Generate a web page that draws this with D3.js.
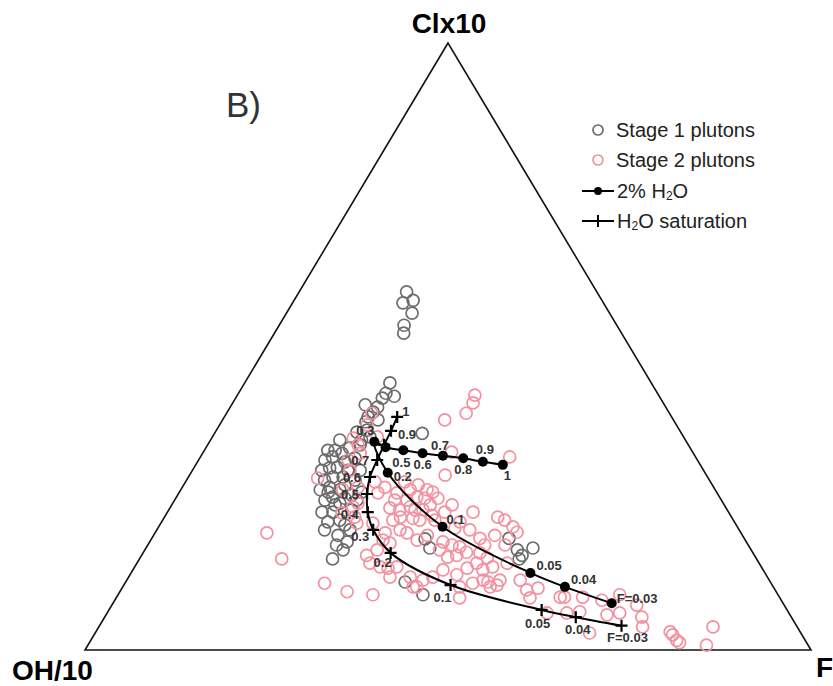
<!DOCTYPE html>
<html>
<head>
<meta charset="utf-8">
<script src="https://cdn.jsdelivr.net/npm/d3@7"></script>
<style>
  body { margin: 0; background: #fff; }
  svg { display: block; font-family: "Liberation Sans", Arial, sans-serif; }
</style>
</head>
<body>
<div id="chart"></div>
<script>
// ternary compositions in percent: [Cl, F]  (OH = 100 - Cl - F)
const stage1 = [
  [59.0, 14.8], [57.2, 15.2], [57.6, 16.4], [55.5, 17.3], [53.5, 17.2], [52.2, 17.8],
  [44.0, 20.0], [42.3, 20.3], [41.8, 21.7], [40.0, 20.3], [39.2, 20.1], [38.4, 19.8],
  [37.6, 19.9], [36.2, 20.7], [35.1, 21.7], [35.7, 28.6], [33.8, 21.0], [33.3, 19.8],
  [32.4, 19.2], [31.8, 18.2], [30.1, 19.7], [28.5, 19.9], [28.5, 21.3], [31.0, 20.3],
  [31.6, 21.4], [26.8, 20.3], [26.4, 21.9], [25.2, 21.5], [25.0, 23.3], [24.2, 23.0],
  [22.7, 22.8], [21.1, 22.9], [21.4, 24.4], [18.9, 25.4], [17.8, 27.2], [15.0, 26.6],
  [19.8, 26.6], [23.1, 25.2], [28.0, 23.2], [30.0, 18.7], [28.0, 19.0], [24.7, 20.7],
  [17.3, 26.0], [11.2, 38.5], [9.1, 42.0], [18.3, 37.7], [16.8, 39.1], [18.4, 49.2],
  [16.5, 51.3], [15.6, 52.4], [16.8, 53.3], [15.0, 52.3], [29.6, 23.1], [29.6, 21.4],
  [32.9, 18.0], [26.0, 25.1], [37.9, 21.4], [41.5, 20.2], [26.0, 20.5], [24.7, 25.1],
  [22.7, 21.3], [27.2, 22.2], [31.3, 17.4], [32.9, 17.0], [29.6, 17.8], [26.4, 19.2],
  [23.9, 22.5], [19.8, 23.1], [20.6, 25.5], [34.6, 20.8], [35.9, 19.5], [34.6, 17.8],
  [40.4, 18.4], [25.5, 24.0], [16.5, 27.3]
];

const stage2 = [
  [19.3, 15.4], [15.0, 19.6], [42.0, 32.7], [40.7, 33.1], [39.0, 33.0], [37.9, 30.6],
  [31.8, 42.6], [32.6, 34.2], [28.8, 35.2], [22.7, 42.1], [21.9, 45.9], [39.0, 20.0],
  [34.9, 19.5], [33.8, 20.7], [28.3, 17.9], [29.6, 21.7], [26.8, 24.2], [27.7, 26.1],
  [25.9, 27.4], [23.6, 25.1], [21.9, 26.2], [20.9, 29.2], [22.6, 24.1], [23.1, 31.8],
  [25.9, 30.0], [24.7, 32.0], [19.8, 33.5], [18.1, 32.0], [35.1, 22.7], [26.8, 27.9],
  [26.4, 31.6], [25.2, 33.1], [23.6, 33.0], [23.1, 35.0], [21.9, 32.5], [21.4, 31.7],
  [21.7, 34.3], [26.0, 34.9], [25.0, 36.1], [23.9, 38.6], [20.3, 48.8], [19.4, 49.8],
  [19.3, 31.7], [17.6, 33.2], [19.3, 34.7], [18.1, 36.7], [18.9, 37.7], [17.8, 40.4],
  [17.3, 41.9], [17.0, 43.1], [16.5, 40.6], [15.3, 42.3], [15.6, 43.4], [16.1, 44.5],
  [16.0, 46.4], [15.2, 47.8], [14.3, 46.8], [13.7, 49.3], [14.3, 51.0], [15.6, 31.0],
  [14.3, 32.1], [13.7, 33.8], [13.7, 36.1], [12.0, 36.0], [12.0, 38.8], [11.5, 40.8],
  [10.4, 40.5], [12.0, 41.9], [13.2, 42.7], [12.4, 45.0], [13.5, 45.9], [10.4, 46.4],
  [11.0, 47.9], [11.5, 49.1], [10.4, 50.6], [11.5, 51.4], [11.5, 54.2], [9.9, 55.9],
  [8.6, 57.0], [11.0, 27.5], [9.6, 31.3], [9.1, 35.1], [8.6, 47.3], [26.4, 33.9],
  [17.3, 46.4], [13.2, 48.2], [11.2, 49.9], [10.7, 51.4], [10.2, 57.3], [8.7, 61.1],
  [8.7, 61.7], [8.7, 64.2], [8.2, 67.1], [9.1, 69.1], [7.4, 72.3], [5.8, 69.0],
  [6.1, 70.6], [6.3, 65.0], [2.8, 68.1], [5.4, 74.0], [3.8, 74.9], [2.5, 79.7],
  [1.6, 80.7], [1.2, 81.3], [0.8, 85.2], [3.8, 84.6], [3.0, 79.1], [6.1, 60.6],
  [6.1, 63.3], [24.2, 25.5], [20.9, 27.0], [16.5, 32.0], [13.5, 35.0], [10.4, 40.0],
  [37.1, 20.3], [32.4, 21.7], [31.3, 20.6], [26.4, 22.3], [23.9, 35.6], [21.4, 35.4],
  [22.7, 38.2], [21.4, 37.5], [27.7, 30.2], [27.2, 32.3], [19.8, 43.1], [21.1, 41.1],
  [18.9, 47.0], [17.3, 49.2], [24.7, 30.3], [25.0, 34.3], [23.1, 33.9], [22.2, 36.7],
  [23.4, 30.3], [20.1, 40.9], [18.4, 45.2], [21.4, 47.1]
];

// melt fraction F along each model path
const wetF = [1, 0.9, 0.8, 0.7, 0.6, 0.5, 0.4, 0.3, 0.2, 0.1, 0.05, 0.04, 0.03];
const wetPath = [
  [30.5, 42.3], [31.0, 39.3], [31.6, 36.3], [32.0, 33.3], [32.4, 30.3], [32.9, 27.4],
  [33.4, 24.7], [34.3, 22.7], [29.2, 27.1], [20.3, 39.1], [12.7, 55.0], [10.4, 60.9], [7.7, 68.7]
];
const wetLabels = ["1", "0.9", "0.8", "0.7", "0.6", "0.5", "", "0.3", "0.2", "0.1", "0.05", "0.04", "F=0.03"];

const satF = [1, 0.9, 0.8, 0.7, 0.6, 0.5, 0.4, 0.3, 0.2, 0.1, 0.05, 0.04, 0.03];
const satPath = [
  [38.4, 23.8], [36.1, 24.1], [33.8, 24.3], [31.3, 24.6], [28.5, 25.0], [25.7, 26.0],
  [22.7, 27.6], [19.8, 29.8], [16.0, 34.1], [10.7, 45.0], [6.6, 59.6], [5.4, 64.9], [4.0, 71.9]
];
const satLabels = ["1", "0.9", "", "0.7", "0.6", "0.5", "0.4", "0.3", "0.2", "0.1", "0.05", "0.04", "F=0.03"];

const legendItems = ["Stage 1 plutons", "Stage 2 plutons", "2% H2O", "H2O saturation"];

// label placement next to each marker: [dx, dy, anchor]
const wetLabelPos = [
  [1, 11, "start"], [-7, -12, "start"], [-9, 11, "start"], [-12, -10, "start"], [-9, 11, "start"],
  [-11, 12, "start"], [0, 0, "start"], [-18, -11, "start"], [6, 4, "start"], [4, -7, "start"],
  [6, -7, "start"], [6, -7, "start"], [5, -5, "start"]
];
const satLabelPos = [
  [5, -5, "start"], [7, 4, "start"], [0, 0, "end"], [-8, 0, "end"], [-9, 0, "end"],
  [-8, 0, "end"], [-9, 2, "end"], [-4, 7, "end"], [-8, 10, "middle"], [-8, 12, "middle"],
  [-4, 14, "middle"], [2, 12, "middle"], [6, 12, "middle"]
];

const width = 833, height = 686;
const gray = "#6c6c6c", pink = "#f4909f";

const svg = d3.select("#chart").append("svg")
  .attr("width", width)
  .attr("height", height);

// x runs along the OH–F base (F + Cl/2), y is the Cl height
const x = d3.scaleLinear().domain([0, 100]).range([85, 811]);
const y = d3.scaleLinear().domain([0, 100]).range([650, 43]);
const project = d => [x(d[1] + d[0] / 2), y(d[0])];

// triangle frame
const corners = [[100, 0], [0, 0], [0, 100]].map(project);
svg.append("path")
  .attr("d", d3.line()(corners) + "Z")
  .attr("fill", "none")
  .attr("stroke", "#111")
  .attr("stroke-width", 1.6);

svg.append("text").attr("x", corners[0][0] + 1).attr("y", 33)
  .attr("text-anchor", "middle").attr("font-size", 28).attr("font-weight", "bold")
  .text("Clx10");
svg.append("text").attr("x", 12).attr("y", 680)
  .attr("font-size", 28).attr("font-weight", "bold").text("OH/10");
svg.append("text").attr("x", 816).attr("y", 677)
  .attr("font-size", 28).attr("font-weight", "bold").text("F");
svg.append("text").attr("x", 226).attr("y", 117)
  .attr("font-size", 35).attr("fill", "#333").text("B)");

// sample points
function drawPoints(data, colour) {
  svg.append("g")
    .selectAll("circle")
    .data(data)
    .enter()
    .append("circle")
    .attr("cx", d => project(d)[0])
    .attr("cy", d => project(d)[1])
    .attr("r", 6)
    .attr("fill", "none")
    .attr("stroke", colour)
    .attr("stroke-width", 1.7);
}
drawPoints(stage1, gray);
drawPoints(stage2, pink);

// model curves
const curve = d3.line()
  .x(d => project(d)[0])
  .y(d => project(d)[1])
  .curve(d3.curveCatmullRom.alpha(0.5));

function drawModel(path, labels, labelPos, marker) {
  const g = svg.append("g");
  g.append("path")
    .attr("d", curve(path))
    .attr("fill", "none")
    .attr("stroke", "#000")
    .attr("stroke-width", 2);

  const pts = g.selectAll("g.pt")
    .data(path)
    .enter()
    .append("g")
    .attr("class", "pt")
    .attr("transform", d => `translate(${project(d)})`);

  if (marker === "dot") {
    pts.append("circle").attr("r", 5).attr("fill", "#000");
  } else {
    pts.append("path").attr("d", "M-6,0H6M0,-6V6")
      .attr("stroke", "#000").attr("stroke-width", 2.2);
  }

  pts.append("text")
    .attr("x", (d, i) => labelPos[i][0])
    .attr("y", (d, i) => labelPos[i][1])
    .attr("text-anchor", (d, i) => labelPos[i][2])
    .attr("dominant-baseline", "central")
    .attr("font-size", 13)
    .attr("font-weight", "bold")
    .attr("fill", "#333")
    .text((d, i) => labels[i]);
}
drawModel(wetPath, wetLabels, wetLabelPos, "dot");
drawModel(satPath, satLabels, satLabelPos, "cross");

// legend
const legend = svg.append("g").attr("font-size", 20).attr("fill", "#222");
const rowY = [130, 160, 191, 221];

legend.append("circle").attr("cx", 598).attr("cy", rowY[0]).attr("r", 5)
  .attr("fill", "none").attr("stroke", gray).attr("stroke-width", 1.7);
legend.append("circle").attr("cx", 598).attr("cy", rowY[1]).attr("r", 5)
  .attr("fill", "none").attr("stroke", pink).attr("stroke-width", 1.7);
legend.append("line").attr("x1", 582).attr("x2", 614).attr("y1", rowY[2]).attr("y2", rowY[2])
  .attr("stroke", "#000").attr("stroke-width", 2);
legend.append("circle").attr("cx", 598).attr("cy", rowY[2]).attr("r", 4).attr("fill", "#000");
legend.append("line").attr("x1", 582).attr("x2", 614).attr("y1", rowY[3]).attr("y2", rowY[3])
  .attr("stroke", "#000").attr("stroke-width", 2);
legend.append("path").attr("d", `M592,${rowY[3]}H604M598,${rowY[3] - 6}V${rowY[3] + 6}`)
  .attr("stroke", "#000").attr("stroke-width", 2);

legendItems.forEach((label, i) => {
  const t = legend.append("text")
    .attr("x", i < 2 ? 616 : 617)
    .attr("y", rowY[i])
    .attr("dominant-baseline", "central");
  const parts = label.split("H2O");
  if (parts.length === 1) {
    t.text(label);
  } else {
    t.append("tspan").text(parts[0] + "H");
    t.append("tspan").attr("font-size", 12).attr("dy", 5).text("2");
    t.append("tspan").attr("dy", -5).text("O" + parts[1]);
  }
});
</script>
</body>
</html>
